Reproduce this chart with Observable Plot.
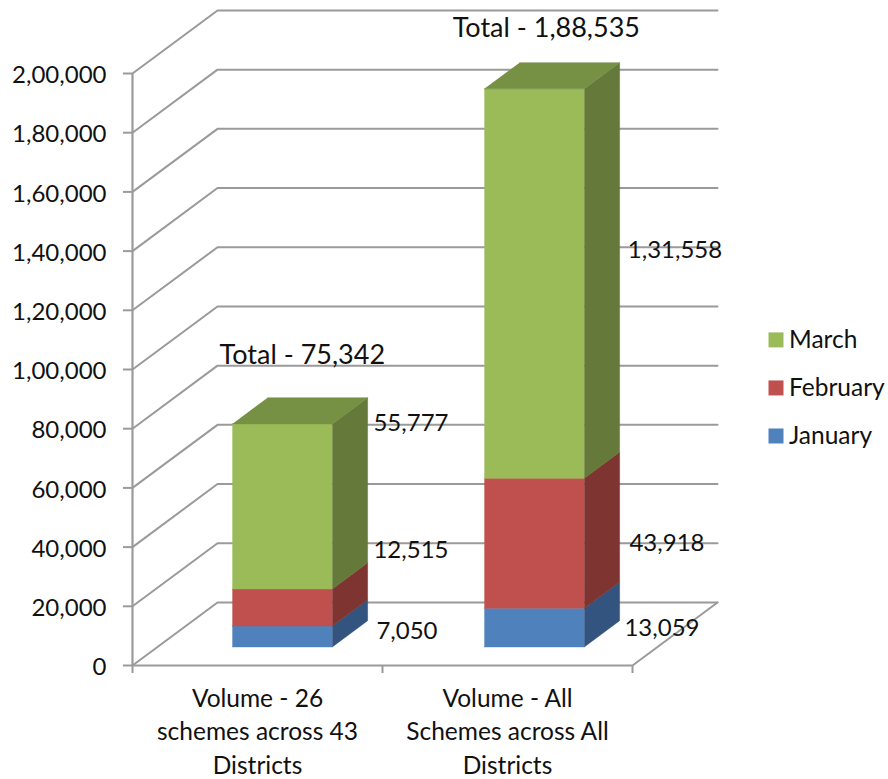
<!DOCTYPE html>
<html>
<head>
<meta charset="utf-8">
<script src="https://cdn.jsdelivr.net/npm/d3@7"></script>
<script src="https://cdn.jsdelivr.net/npm/@observablehq/plot@0.6"></script>
<style>
html,body{margin:0;padding:0;background:#fff}
svg{display:block}
</style>
</head>
<body>
<div id="chart"></div>
<script>
const categories = ["Volume - 26\nschemes across 43\nDistricts", "Volume - All\nSchemes across All\nDistricts"];
const series = ["January", "February", "March"];
const january = [7050, 13059];
const february = [12515, 43918];
const march = [55777, 131558];
const totals = [75342, 188535];
const tickValues = d3.range(0, 200001, 20000);
const legendOrder = ["March", "February", "January"];

const frontColors = ["#4F81BD", "#C0504D", "#9BBB59"];
const sideColors = ["#33547F", "#7E3431", "#65793A"];
const topColor = "#769044";
const gridColor = "#9A9A9A";
const textColor = "#111";
const font = "Lato, 'Open Sans', sans-serif";
const fontSize = 24;

// oblique projection: one unit of depth in category and value units
const depthX = 85 / 250;
const depthY = 63 * 200000 / 591.5;
const project = (u, v, d) => ({x: u + d * depthX, y: v + d * depthY});
const barFront = 0.295, barBack = 0.71, barHalf = 0.2, barNudge = [-0.001, 0.007];

const indian = v => {
  const s = String(v);
  if (s.length <= 3) return s;
  const last = s.slice(-3);
  return s.slice(0, -3).replace(/\B(?=(\d{2})+$)/g, ",") + "," + last;
};

const values = [january, february, march];
const faces = [];
const segments = [];
categories.forEach((c, b) => {
  const cx = b + 0.5 + barNudge[b];
  let base = 0;
  series.forEach((s, k) => {
    const v = values[k][b], t = base + v;
    const L = cx - barHalf, R = cx + barHalf;
    const add = (id, color, pts) => pts.forEach(p => faces.push({id: `${id}-${b}-${k}`, color, ...project(...p)}));
    add("front", frontColors[k], [[L, base, barFront], [R, base, barFront], [R, t, barFront], [L, t, barFront]]);
    add("side", sideColors[k], [[R, base, barFront], [R, base, barBack], [R, t, barBack], [R, t, barFront]]);
    if (k === series.length - 1)
      add("top", topColor, [[L, t, barFront], [R, t, barFront], [R, t, barBack], [L, t, barBack]]);
    segments.push({bar: b, value: v, ...project(R, (base + t) / 2, (barFront + barBack) / 2)});
    base = t;
  });
});

const grid = [];
tickValues.forEach(v => {
  [project(0, v, 0), project(0, v, 1), project(2, v, 1)].forEach(p => grid.push({id: v, ...p}));
});
[project(2, 0, 1), project(2, 0, 0)].forEach(p => grid.push({id: "floor", ...p}));

// label nudges (px) matching the hand-placed text boxes: order = segments order
const labelNudges = [[57, 8], [61, -44], [61, -70], [60, 14], [65, 13], [73, -20]];
const totalNudges = [[20, -69], [12, -60]];

const txt = {fontSize, fontFamily: font, fill: textColor, stroke: "none"};

const plot = Plot.plot({
  width: 888,
  height: 779,
  marginLeft: 132,
  marginRight: 256,
  marginTop: 73,
  marginBottom: 114,
  style: {background: "#fff", overflow: "visible"},
  x: {domain: [0, 2], axis: null},
  y: {domain: [0, 200000], axis: null},
  color: {domain: series, range: frontColors},
  marks: [
    Plot.line(grid, {x: "x", y: "y", z: "id", stroke: gridColor, strokeWidth: 2, curve: "linear"}),
    Plot.ruleX([0], {y1: 0, y2: 200000, stroke: gridColor, strokeWidth: 2.2}),
    Plot.ruleY([0], {x1: 0, x2: 2, stroke: gridColor, strokeWidth: 2.2}),
    Plot.axisY({
      ticks: tickValues, tickFormat: () => "", tickSize: 9,
      stroke: gridColor, strokeWidth: 2, label: null
    }),
    Plot.axisY({
      ticks: tickValues, tickFormat: indian, tickSize: 0, tickPadding: 26, dy: 2,
      label: null, fontSize, fontFamily: font, fill: textColor
    }),
    Plot.axisX({
      ticks: [0, 1, 2], tickFormat: () => "", tickSize: 8,
      stroke: gridColor, strokeWidth: 2, label: null
    }),
    Plot.line(faces, {
      x: "x", y: "y", z: "id",
      fill: {value: "color", scale: null},
      stroke: {value: "color", scale: null},
      strokeWidth: 0.5
    }),
    ...segments.map((s, i) => Plot.text([s], {
      x: "x", y: "y", text: d => indian(d.value),
      dx: labelNudges[i][0], dy: labelNudges[i][1], ...txt
    })),
    ...totals.map((t, i) => Plot.text([t], {
      x: () => i + 0.5 + barNudge[i] + barFront * depthX,
      y: d => d + barFront * depthY,
      text: d => "Total - " + indian(d),
      dx: totalNudges[i][0], dy: totalNudges[i][1], ...txt, fontSize: 27
    })),
    Plot.text(categories, {
      x: (d, i) => i + 0.5, y: () => 0, text: d => d,
      lineAnchor: "top", lineHeight: 1.38, dy: 17, ...txt, fontSize: 24.5
    }),
    Plot.dot(legendOrder, {
      x: () => 2.574, y: (d, i) => 110000 - i * 16230,
      symbol: "square", r: 8.46, fill: d => d, stroke: "none"
    }),
    Plot.text(legendOrder, {
      x: () => 2.574, y: (d, i) => 110000 - i * 16230,
      text: d => d, textAnchor: "start", dx: 13, ...txt, fontSize: 24.5
    })
  ]
});
document.getElementById("chart").appendChild(plot);
</script>
</body>
</html>
